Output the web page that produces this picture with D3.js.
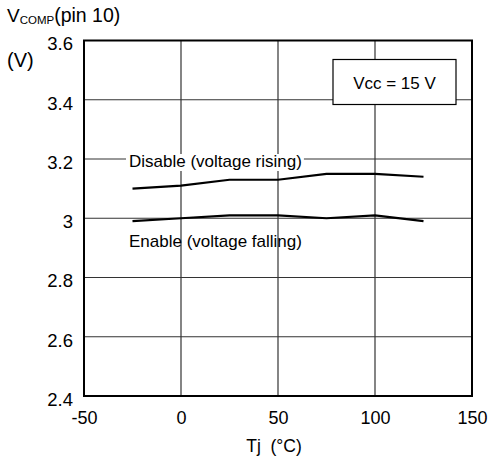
<!DOCTYPE html>
<html><head><meta charset="utf-8">
<script src="https://cdn.jsdelivr.net/npm/d3@7"></script>
<style>body{margin:0;background:#fff}svg{font-family:"Liberation Sans",Arial,sans-serif}</style>
</head><body>
<svg id="c" width="488" height="464"></svg>
<script>
const temps = [-25, 0, 25, 50, 75, 100, 125];
const disable = [3.10, 3.11, 3.13, 3.13, 3.15, 3.15, 3.14];
const enable = [2.99, 3.00, 3.01, 3.01, 3.00, 3.01, 2.99];
const xTicks = [-50, 0, 50, 100, 150];
const yTicks = [2.4, 2.6, 2.8, 3.0, 3.2, 3.4, 3.6];
const yTickLabels = ["2.4", "2.6", "2.8", "3", "3.2", "3.4", "3.6"];

const svg = d3.select("#c");
const L = 84, R = 472, T = 40.5, B = 396;
const x = d3.scaleLinear().domain([-50, 150]).range([L, R]);
const y = d3.scaleLinear().domain([2.4, 3.6]).range([B, T]);
const FF = "Liberation Sans, Arial, sans-serif";

// grid
svg.append("g").selectAll("line").data(xTicks.slice(1, -1)).join("line")
  .attr("x1", d => x(d)).attr("x2", d => x(d)).attr("y1", T).attr("y2", B)
  .attr("stroke", "#333").attr("stroke-width", 1.2);
svg.append("g").selectAll("line").data(yTicks.slice(1, -1)).join("line")
  .attr("y1", d => y(d)).attr("y2", d => y(d)).attr("x1", L).attr("x2", R)
  .attr("stroke", "#333").attr("stroke-width", 1.2);

// frame
svg.append("rect").attr("x", L).attr("y", T).attr("width", R - L).attr("height", B - T)
  .attr("fill", "none").attr("stroke", "#000").attr("stroke-width", 2);

// axes labels via d3 axes
const xa = svg.append("g").attr("transform", `translate(0,${B})`)
  .call(d3.axisBottom(x).tickValues(xTicks).tickSize(0).tickPadding(15).tickFormat(d => String(d)));
xa.select(".domain").remove();
xa.selectAll("text").attr("font-size", 18).attr("fill", "#000").attr("font-family", FF);

const ya = svg.append("g").attr("transform", `translate(${L},0)`)
  .call(d3.axisLeft(y).tickValues(yTicks).tickSize(0).tickPadding(11)
    .tickFormat((d, i) => yTickLabels[i]));
ya.select(".domain").remove();
ya.selectAll("text").attr("font-size", 18.5).attr("fill", "#000").attr("font-family", FF)
  .attr("dy", "0.35em").attr("transform", "translate(0,3)");

// lines
const line = d3.line().x((d, i) => x(temps[i])).y(d => y(d));
[disable, enable].forEach(s => {
  svg.append("path").datum(s).attr("d", line).attr("fill", "none")
    .attr("stroke", "#000").attr("stroke-width", 2.2);
});

// series labels
const bg = svg.append("rect").attr("fill", "#fff");
const lab1 = svg.append("text").attr("x", 129).attr("y", 167).attr("font-size", 17).text("Disable (voltage rising)");
const bb = lab1.node().getBBox();
bg.attr("x", bb.x - 3).attr("y", bb.y + 2).attr("width", bb.width + 5).attr("height", bb.height - 2);
svg.append("text").attr("x", 129).attr("y", 247).attr("font-size", 17).text("Enable (voltage falling)");

// Vcc box
svg.append("rect").attr("x", 333).attr("y", 59.5).attr("width", 123).attr("height", 45)
  .attr("fill", "#fff").attr("stroke", "#000").attr("stroke-width", 1.2);
svg.append("text").attr("x", 394.5).attr("y", 89).attr("text-anchor", "middle").attr("font-size", 17).text("Vcc = 15 V");

// axis titles
const yt = svg.append("text").attr("x", 7).attr("y", 22).attr("font-size", 19);
yt.append("tspan").text("V");
yt.append("tspan").attr("font-size", 11.5).attr("dy", 2).text("COMP");
yt.append("tspan").attr("dy", -2).attr("font-size", 19.5).text("(pin 10)");
svg.append("text").attr("x", 7).attr("y", 67).attr("font-size", 20).text("(V)");
svg.append("text").attr("x", 274).attr("y", 452).attr("text-anchor", "middle").attr("font-size", 17.5)
  .attr("xml:space", "preserve").style("white-space", "pre").text("Tj  (°C)");
</script>
</body></html>
